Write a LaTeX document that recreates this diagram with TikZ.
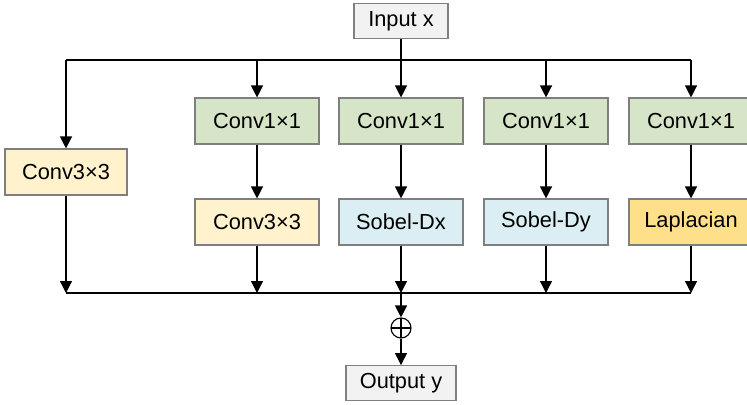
\documentclass[tikz,border=0pt]{standalone}
\usepackage{fontspec}
\setmainfont{Liberation Sans}
\usetikzlibrary{arrows.meta,positioning}

\definecolor{convgreen}{HTML}{D6E4C8}
\definecolor{convyellow}{HTML}{FFF2CC}
\definecolor{sobelblue}{HTML}{DAEEF3}
\definecolor{lapgold}{HTML}{FFE08A}
\definecolor{iogray}{HTML}{F2F2F2}
\definecolor{edgegray}{HTML}{7F7F7F}

\tikzset{
    blk/.style={draw=edgegray, line width=0.8pt, minimum width=3.1cm, minimum height=1.15cm,
        inner sep=0pt, font=\fontsize{15.5}{17}\selectfont},
    iobox/.style={blk, fill=iogray, minimum width=2.35cm, minimum height=0.87cm},
    arr/.style={line width=0.9pt, -{Triangle[length=0.3cm, width=0.3cm]}},
    ln/.style={line width=0.9pt},
    addop/.style={circle, draw, line width=0.8pt, minimum size=0.5cm, inner sep=0pt,
        path picture={
            \draw (path picture bounding box.north) -- (path picture bounding box.south);
            \draw (path picture bounding box.west) -- (path picture bounding box.east);
        }}
}

\begin{document}
\begin{tikzpicture}[x=0.025cm, y=-0.025cm]
\useasboundingbox (0,0) rectangle (747,404);

% input / output
\node[iobox] (in) at (401,21) {Input x};
\node[addop] (sum) at (401,328) {};
\node[iobox, minimum width=2.75cm] (out) at (401,383) {Output y};

% left branch
\node[blk, fill=convyellow, minimum width=3.05cm] (c3a) at (66,172) {Conv3×3};

% four 1x1 branches
\node[blk, fill=convgreen] (p1) at (257,121) {Conv1×1};
\node[blk, fill=convgreen] (p2) at (401,121) {Conv1×1};
\node[blk, fill=convgreen] (p3) at (546,121) {Conv1×1};
\node[blk, fill=convgreen] (p4) at (691,121) {Conv1×1};

\node[blk, fill=convyellow] (q1) at (257,222) {Conv3×3};
\node[blk, fill=sobelblue] (q2) at (401,222) {Sobel-Dx};
\node[blk, fill=sobelblue] (q3) at (546,222) {Sobel-Dy};
\node[blk, fill=lapgold] (q4) at (691,222) {Laplacian};

% split and merge rails
\coordinate (s0) at (66,60);
\coordinate (m0) at (66,293);
\foreach \i/\x in {1/257,2/401,3/546,4/691} {
    \coordinate (s\i) at (\x,60);
    \coordinate (m\i) at (\x,293);
}

\draw[ln] (in) -- (s2);
\draw[ln] (s0) -- (s4);
\draw[arr] (s0) -- (c3a);
\draw[arr] (c3a) -- (m0);
\foreach \i in {1,2,3,4} {
    \draw[arr] (s\i) -- (p\i);
    \draw[arr] (p\i) -- (q\i);
    \draw[arr] (q\i) -- (m\i);
}
\draw[ln] (m0) -- (m4);

% sum
\draw[arr] (m2) -- (sum);
\draw[arr] (sum) -- (out);

\end{tikzpicture}
\end{document}
